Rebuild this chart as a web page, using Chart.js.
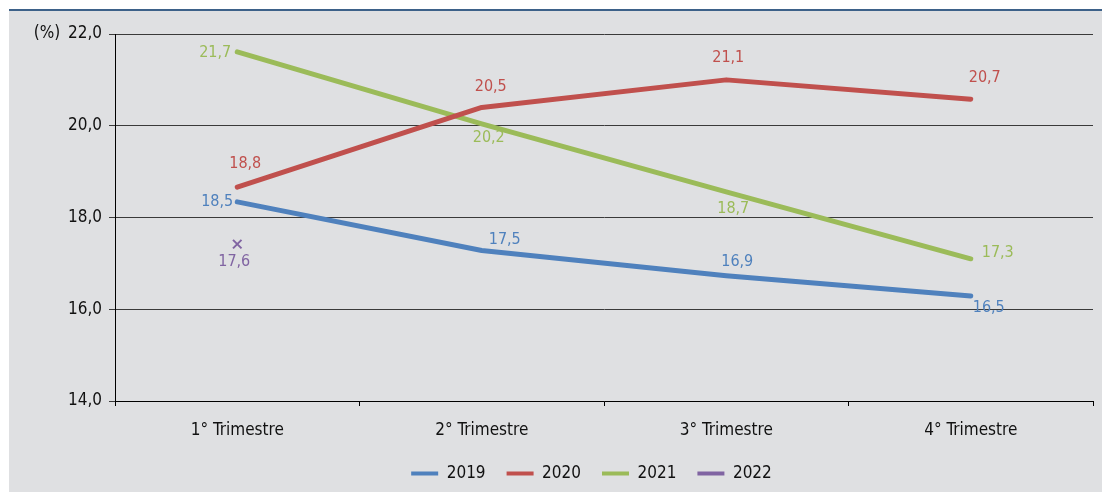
<!DOCTYPE html>
<html>
<head>
<meta charset="utf-8">
<script src="https://cdn.jsdelivr.net/npm/chart.js@4"></script>
<style>
  html, body { margin: 0; padding: 0; background: #fff; }
  #wrap { width: 1102px; height: 492px; position: relative; }
</style>
</head>
<body>
<div id="wrap"><canvas id="chart"></canvas></div>
<script>
// ── Data ─────────────────────────────────────────────────────────────────────
const quarters = ["1° Trimestre", "2° Trimestre", "3° Trimestre", "4° Trimestre"];
const years = ["2019", "2020", "2021", "2022"];

// line positions as drawn in the picture
const values2019 = [18.34, 17.28, 16.73, 16.29];
const values2020 = [18.66, 20.40, 21.00, 20.58];
const values2021 = [21.61, 20.04, 18.56, 17.10];
const values2022 = [17.42, null, null, null];

// printed value labels
const labels2019 = ["18,5", "17,5", "16,9", "16,5"];
const labels2020 = ["18,8", "20,5", "21,1", "20,7"];
const labels2021 = ["21,7", "20,2", "18,7", "17,3"];
const labels2022 = ["17,6", "", "", ""];

const yTicks = [14, 16, 18, 20, 22];

// ── Style ────────────────────────────────────────────────────────────────────
const COLORS = ["#4f81bd", "#c0504d", "#9bbb59", "#8064a2"];
const NARROW = '"Liberation Sans Narrow", "DejaVu Sans Condensed", "Roboto", sans-serif';
const INK = "#111";

// label offsets from the point: [dx, dy, align]
const LABEL_POS = [
  [[-4, 0, "right"], [23, -11, "center"], [11, -14, "center"], [18, 12, "center"]],
  [[8, -23, "center"], [9, -21, "center"], [2, -22, "center"], [14, -21, "center"]],
  [[-6, 1, "right"], [7, 14, "center"], [7, 17, "center"], [27, -6, "center"]],
  [[-3, 18, "center"], null, null, null],
];

const backdrop = {
  id: "backdrop",
  afterLayout(chart) {
    // legend group sits right of centre in the original
    if (chart.legend) { chart.legend.left += 45; chart.legend.right += 45; }
  },
  beforeDraw(chart) {
    const { ctx, width, height } = chart;
    ctx.save();
    ctx.fillStyle = "#ffffff";
    ctx.fillRect(0, 0, width, height);
    ctx.fillStyle = "#dfe0e2";
    ctx.fillRect(9, 11, width - 9, height - 11);
    ctx.fillStyle = "#3d6189";
    ctx.fillRect(9, 9, width - 9, 2);
    ctx.restore();
  },
  afterDraw(chart) {
    const { ctx } = chart;
    ctx.save();
    ctx.font = "17px " + NARROW;
    ctx.fillStyle = INK;
    ctx.textAlign = "center";
    ctx.textBaseline = "middle";
    ctx.fillText("(%)", 47, chart.scales.y.getPixelForValue(22));
    ctx.restore();
  }
};

const valueLabels = {
  id: "valueLabels",
  afterDatasetsDraw(chart) {
    const { ctx } = chart;
    const all = [labels2019, labels2020, labels2021, labels2022];
    ctx.save();
    ctx.font = "16px " + NARROW;
    ctx.textBaseline = "middle";
    chart.data.datasets.forEach((ds, di) => {
      const meta = chart.getDatasetMeta(di);
      meta.data.forEach((pt, i) => {
        const txt = all[di][i];
        const pos = LABEL_POS[di][i];
        if (!txt || !pos || ds.data[i] == null) return;
        ctx.fillStyle = COLORS[di];
        ctx.textAlign = pos[2];
        ctx.fillText(txt, pt.x + pos[0], pt.y + pos[1]);
      });
    });
    ctx.restore();
  }
};

function lineSet(label, data, color) {
  return {
    label, data,
    borderColor: color,
    backgroundColor: color,
    borderWidth: 5,
    borderCapStyle: "round",
    borderJoinStyle: "round",
    tension: 0,
    pointRadius: 0,
    pointHoverRadius: 0,
    fill: false,
  };
}

new Chart(document.getElementById("chart"), {
  type: "line",
  data: {
    labels: quarters,
    datasets: [
      lineSet(years[0], values2019, COLORS[0]),
      lineSet(years[1], values2020, COLORS[1]),
      lineSet(years[2], values2021, COLORS[2]),
      {
        label: years[3],
        data: values2022,
        borderColor: COLORS[3],
        backgroundColor: COLORS[3],
        showLine: false,
        pointStyle: "crossRot",
        pointRadius: 6,
        pointBorderWidth: 2,
      },
    ],
  },
  options: {
    responsive: true,
    maintainAspectRatio: false,
    animation: false,
    devicePixelRatio: 1,
    layout: { padding: { left: 0, top: 34, right: 9, bottom: 0 } },
    plugins: {
      tooltip: { enabled: false },
      legend: {
        position: "bottom",
        labels: {
          color: INK,
          font: { family: NARROW, size: 17 },
          boxWidth: 27,
          boxHeight: 4,
          padding: 21,
          generateLabels(chart) {
            return Chart.defaults.plugins.legend.labels.generateLabels(chart).map(l => ({
              ...l, fillStyle: l.strokeStyle, lineWidth: 0, pointStyle: undefined,
            }));
          },
        },
      },
    },
    scales: {
      x: {
        offset: true,
        grid: { offset: true, drawOnChartArea: false, tickLength: 5, color: "#000" },
        border: { color: "#000", width: 1 },
        ticks: { color: INK, font: { family: NARROW, size: 17 }, padding: 14 },
        afterFit(scale) { scale.height = 43; },
      },
      y: {
        min: yTicks[0],
        max: yTicks[yTicks.length - 1],
        afterBuildTicks(scale) { scale.ticks = yTicks.map(v => ({ value: v })); },
        grid: { color: "#3a3a3a", tickLength: 6 },
        border: { color: "#000", width: 1 },
        ticks: {
          color: INK,
          font: { family: NARROW, size: 17 },
          padding: 7,
          callback: v => v.toFixed(1).replace(".", ","),
        },
        afterFit(scale) { scale.width = 115; },
      },
    },
  },
  plugins: [backdrop, valueLabels],
});
</script>
</body>
</html>
